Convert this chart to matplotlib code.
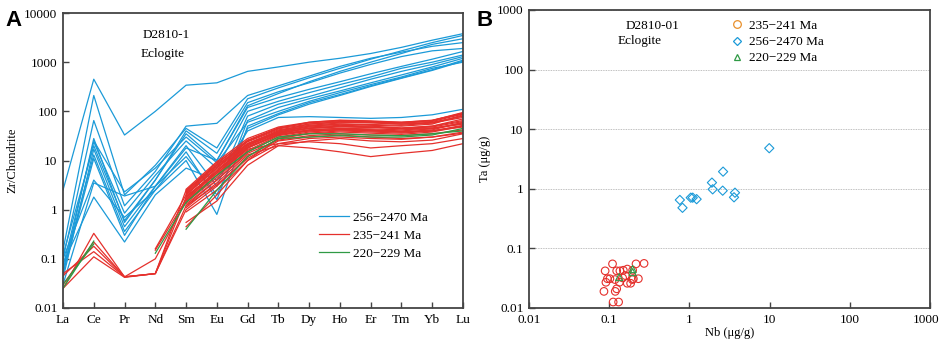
import numpy as np
import matplotlib
matplotlib.use("Agg")
import matplotlib.pyplot as plt
import matplotlib.transforms as mtransforms
from matplotlib.lines import Line2D
from matplotlib.ticker import FixedLocator, FixedFormatter, NullLocator

nan = np.nan
ree = ["La", "Ce", "Pr", "Nd", "Sm", "Eu", "Gd", "Tb", "Dy", "Ho", "Er", "Tm", "Yb", "Lu"]

# Panel A: chondrite-normalised REE patterns
blue_256_2470 = [
    [2.5, 450, 33, 100, 340, 380, 650, 800, 1000, 1200, 1500, 2000, 2800, 3800],
    [0.15, 210, 2.0, 8, 45, 18, 180, 300, 480, 750, 1150, 1700, 2500, 3500],
    [0.10, 65, 1.2, 6, 50, 57, 210, 330, 520, 820, 1200, 1600, 2100, 2500],
    [0.05, 28, 0.55, 4, 35, 10, 120, 190, 280, 400, 580, 820, 1150, 1650],
    [0.07, 24, 0.85, 5, 25, 7, 100, 160, 240, 350, 500, 750, 1000, 1400],
    [0.04, 17, 0.45, 3, 20, 3, 80, 140, 200, 300, 450, 650, 900, 1300],
    [0.06, 13, 0.36, 2.5, 15, 1.6, 65, 120, 180, 260, 380, 550, 800, 1200],
    [nan, 25, 2.3, 7, 30, 9, 60, 100, 160, 240, 350, 500, 750, 1000],
    [0.10, 4, 0.7, 2.5, 10, 0.8, 50, 90, 150, 220, 330, 480, 700, 1100],
    [0.08, 1.8, 0.22, 2, 7, 4, 40, 75, 78, 75, 72, 75, 85, 110],
    [0.12, 20, 0.6, 4, 40, 14, 150, 250, 380, 600, 900, 1300, 1700, 1900],
    [0.05, 11, 0.3, 3, 18, 10, 130, 230, 400, 650, 1000, 1500, 2300, 3000],
    [0.03, 3.5, 1.9, 3, 12, 2, 45, 85, 140, 210, 320, 470, 680, 1050],
]
red_235_241 = [
    [0.025, 0.33, 0.043, 0.05, 2.5, 8, 22, 40, 50, 55, 52, 50, 55, 85],
    [0.03, 0.22, 0.043, 0.10, 1.5, 5, 18, 35, 45, 50, 48, 45, 50, 70],
    [0.045, 0.18, 0.043, 0.05, 1.2, 4, 15, 30, 38, 42, 40, 38, 42, 60],
    [0.05, 0.14, 0.043, 0.05, 1.8, 6, 20, 38, 48, 52, 50, 46, 50, 65],
    [0.025, 0.11, 0.042, 0.05, 1.0, 3, 12, 28, 35, 38, 36, 34, 38, 50],
    [nan, nan, nan, 0.16, 2.0, 7, 25, 45, 60, 65, 62, 60, 65, 90],
    [nan, nan, nan, 0.15, 1.6, 6, 22, 40, 55, 60, 58, 55, 60, 80],
    [nan, nan, nan, nan, 2.2, 8, 24, 42, 52, 58, 60, 58, 65, 95],
    [nan, nan, nan, nan, 1.9, 5.5, 18, 33, 42, 45, 44, 42, 45, 55],
    [nan, nan, nan, nan, 1.7, 6.5, 20, 36, 45, 48, 47, 45, 48, 62],
    [nan, nan, nan, nan, 1.4, 4.5, 16, 32, 40, 42, 40, 38, 40, 50],
    [nan, nan, nan, nan, 2.4, 9, 25, 44, 55, 62, 60, 55, 58, 75],
    [nan, nan, nan, nan, 1.3, 4, 14, 26, 32, 35, 33, 32, 35, 42],
    [nan, nan, nan, nan, 0.55, 1.5, 8, 20, 25, 28, 25, 24, 26, 35],
    [nan, nan, nan, nan, 0.45, 2, 10, 22, 28, 30, 28, 27, 30, 38],
    [nan, nan, nan, nan, 2.1, 7.5, 22, 38, 50, 55, 54, 52, 58, 80],
    [nan, nan, nan, nan, 1.1, 3.5, 13, 20, 18, 15, 12, 14, 16, 22],
    [nan, nan, nan, nan, 1.5, 5, 17, 22, 24, 22, 18, 20, 22, 28],
    [nan, nan, nan, nan, 1.8, 6, 19, 34, 42, 45, 42, 38, 40, 48],
    [nan, nan, nan, nan, 2.0, 7, 21, 37, 46, 50, 48, 44, 46, 56],
    [nan, nan, nan, nan, 1.6, 5.5, 18, 34, 40, 43, 42, 40, 44, 58],
    [nan, nan, nan, nan, 2.3, 8.5, 26, 46, 58, 64, 62, 58, 62, 88],
    [nan, nan, nan, nan, 1.2, 3.2, 11, 25, 30, 33, 30, 28, 30, 36],
    [nan, nan, nan, nan, 2.6, 9.5, 28, 48, 60, 66, 64, 60, 66, 92],
    [nan, nan, nan, nan, 0.9, 2.5, 10, 28, 36, 40, 38, 36, 40, 52],
]
green_220_229 = [
    [0.025, 0.23, nan, nan, 0.4, 2.5, 12, 28, 30, 32, 30, 30, 33, 45],
    [0.03, 0.20, nan, 0.13, 1.4, 5, 15, 30, 35, 35, 33, 32, 35, 40],
]

# Panel B: Nb vs Ta (ug/g)
nb_235_241 = [0.089, 0.110, 0.091, 0.095, 0.102, 0.086, 0.119, 0.124, 0.124, 0.136,
              0.134, 0.112, 0.131, 0.150, 0.159, 0.168, 0.168, 0.185, 0.196, 0.200,
              0.216, 0.231, 0.272, 0.194, 0.147, 0.118]
ta_235_241 = [0.042, 0.055, 0.027, 0.031, 0.031, 0.019, 0.019, 0.021, 0.042, 0.042,
              0.027, 0.0126, 0.0126, 0.043, 0.035, 0.045, 0.026, 0.026, 0.043, 0.031,
              0.055, 0.031, 0.056, 0.030, 0.032, 0.030]
nb_256_2470 = [0.76, 0.82, 1.04, 1.10, 1.23, 1.91, 1.95, 2.6, 2.63, 3.6, 3.7, 9.9]
ta_256_2470 = [0.65, 0.48, 0.71, 0.71, 0.67, 1.27, 0.98, 0.93, 1.94, 0.72, 0.86, 4.8]
nb_220_229 = [0.133, 0.196, 0.196]
ta_220_229 = [0.033, 0.045, 0.040]

BLUE = "#1b9ad8"
RED = "#e5302c"
GREEN = "#2f9a45"
ORANGE = "#e8902c"
FRAME = "#444444"

plt.rcParams["font.family"] = ["Liberation Serif", "DejaVu Serif"]

fig = plt.figure(figsize=(9.41, 3.40), dpi=100)
axA = fig.add_axes([63/941, 1-308/340, 400/941, 295/340])
axB = fig.add_axes([529/941, 1-308/340, 401/941, 298/340])

# ---- Panel A
x = np.arange(len(ree))
for row in blue_256_2470:
    axA.plot(x, row, color=BLUE, lw=0.9)
for row in red_235_241:
    axA.plot(x, row, color=RED, lw=0.9)
for row in green_220_229:
    axA.plot(x, row, color=GREEN, lw=0.9)
axA.set_yscale("log")
axA.set_ylim(0.01, 10000)
axA.set_xlim(0, len(ree)-1)
axA.set_xticks(x)
axA.set_xticklabels(ree)
yt = [0.01, 0.1, 1, 10, 100, 1000, 10000]
axA.yaxis.set_major_locator(FixedLocator(yt))
axA.yaxis.set_major_formatter(FixedFormatter(["0.01", "0.1", "1", "10", "100", "1000", "10000"]))
axA.yaxis.set_minor_locator(NullLocator())
axA.set_ylabel("Zr/Chondrite", fontsize=9, labelpad=4)
axA.text(0.20, 0.925, "D2810-1", transform=axA.transAxes, fontsize=9.5, ha="left", va="center")
axA.text(0.195, 0.86, "Eclogite", transform=axA.transAxes, fontsize=9.5, ha="left", va="center")
handlesA = [Line2D([], [], color=BLUE, lw=0.9), Line2D([], [], color=RED, lw=0.9),
            Line2D([], [], color=GREEN, lw=0.9)]
axA.legend(handlesA, ["256\u22122470 Ma", "235\u2212241 Ma", "220\u2212229 Ma"],
           loc="upper left", bbox_to_anchor=(0.628, 0.345), frameon=False, fontsize=9.5,
           handlelength=2.2, handletextpad=0.35, labelspacing=0.45, borderaxespad=0)

# ---- Panel B
axB.scatter(nb_235_241, ta_235_241, s=30, facecolors="none", edgecolors=RED, marker="o", linewidths=0.8, zorder=3)
axB.scatter(nb_256_2470, ta_256_2470, s=22, facecolors="none", edgecolors=BLUE, marker="D", linewidths=0.8, zorder=3)
axB.scatter(nb_220_229, ta_220_229, s=26, facecolors="none", edgecolors=GREEN, marker="^", linewidths=0.8, zorder=4)
axB.set_xscale("log")
axB.set_yscale("log")
axB.set_xlim(0.01, 1000)
axB.set_ylim(0.01, 1000)
xt = [0.01, 0.1, 1, 10, 100, 1000]
xl = ["0.01", "0.1", "1", "10", "100", "1000"]
axB.xaxis.set_major_locator(FixedLocator(xt))
axB.xaxis.set_major_formatter(FixedFormatter(xl))
axB.yaxis.set_major_locator(FixedLocator(xt))
axB.yaxis.set_major_formatter(FixedFormatter(xl))
axB.xaxis.set_minor_locator(NullLocator())
axB.yaxis.set_minor_locator(NullLocator())
axB.grid(axis="y", which="major", color="#aaaaaa", linestyle=(0, (1, 1)), lw=0.6)
axB.set_axisbelow(True)
axB.set_xlabel("Nb (\u03bcg/g)", fontsize=9, labelpad=1)
axB.set_ylabel("Ta (\u03bcg/g)", fontsize=9, labelpad=4)
axB.text(0.24, 0.945, "D2810-01", transform=axB.transAxes, fontsize=9.5, ha="left", va="center")
axB.text(0.22, 0.895, "Eclogite", transform=axB.transAxes, fontsize=9.5, ha="left", va="center")
handlesB = [Line2D([], [], ls="none", marker="o", mfc="none", mec=ORANGE, ms=5.5, mew=0.9),
            Line2D([], [], ls="none", marker="D", mfc="none", mec=BLUE, ms=4.5, mew=0.9),
            Line2D([], [], ls="none", marker="^", mfc="none", mec=GREEN, ms=5, mew=0.9)]
axB.legend(handlesB, ["235\u2212241 Ma", "256\u22122470 Ma", "220\u2212229 Ma"],
           loc="upper left", bbox_to_anchor=(0.49, 0.985), frameon=False, fontsize=9.5,
           handlelength=1.0, handletextpad=0.4, labelspacing=0.3, borderaxespad=0)

for ax in (axA, axB):
    for sp in ax.spines.values():
        sp.set_color(FRAME)
        sp.set_linewidth(1.3)
    ax.tick_params(direction="in", length=4, width=1, color=FRAME, labelsize=9.5, pad=4)

# keep the last x tick label of panel B inside the figure
fig.canvas.draw()
last = axB.get_xticklabels()[-1]
last.set_transform(last.get_transform() + mtransforms.ScaledTranslation(-4/100, 0, fig.dpi_scale_trans))

fig.text(5/941, 1-20/340, "A", fontsize=16, fontweight="bold", family="Liberation Sans", va="center")
fig.text(476/941, 1-20/340, "B", fontsize=16, fontweight="bold", family="Liberation Sans", va="center")

fig.savefig("out.png", dpi=100)
